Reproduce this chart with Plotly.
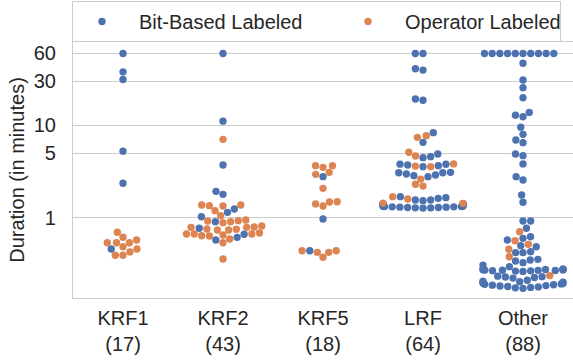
import numpy as np
import plotly.graph_objects as go

# ---------------- data (durations in minutes) ----------------
categories = ["KRF1", "KRF2", "KRF5", "LRF", "Other"]
tick_labels = ["KRF1<br>(17)", "KRF2<br>(43)", "KRF5<br>(18)", "LRF<br>(64)", "Other<br>(88)"]
series_names = ["Bit-Based Labeled", "Operator Labeled"]
y_tick_vals = [1, 5, 10, 30, 60]
y_tick_text = ["1", "5", "10", "30", "60"]

krf1_bit = [60, 38, 31.4, 5.25, 2.36, 0.458]
krf1_op = [0.695, 0.536, 0.536, 0.536, 0.574, 0.614, 0.458, 0.485, 0.425, 0.392, 0.392]

krf2_bit = [60, 11.1, 3.72, 1.93, 1.79, 1.242, 1.144, 1.025, 0.905, 0.768, 0.662, 0.613, 0.573]
krf2_op = [7.06, 1.373, 1.191, 1.339, 1.349, 1.373, 1.051, 0.921, 0.905, 0.883, 0.928, 0.944,
           0.813, 0.787, 0.787, 0.736, 0.736, 0.749, 0.754, 0.793, 0.666, 0.666, 0.666, 0.638,
           0.536, 0.588, 0.634, 0.650, 0.683, 0.357]

krf5_bit = [2.78, 0.968, 0.439]
krf5_op = [3.66, 3.51, 3.66, 2.95, 3.10, 2.08, 1.41, 1.34, 1.48, 1.49, 0.439, 0.422, 0.373, 0.422, 0.439]

lrf_bit = [60, 60, 41, 39.7, 19.3, 18.7, 8.33, 6.55, 4.90, 4.58, 4.47, 3.80, 3.72, 3.66, 3.57, 3.79,
           3.10, 3.07, 3.07, 2.97, 2.90, 2.85, 2.78, 1.688, 1.647, 1.622, 1.555, 1.555, 1.528,
           1.27, 1.28, 1.28, 1.29, 1.29, 1.30, 1.30, 1.31, 1.31, 1.32, 1.32, 1.33, 1.34, 1.35,
           1.36, 1.37, 1.38, 1.39, 1.40, 1.41, 1.42]
lrf_op = [7.73, 7.42, 5.11, 4.66, 3.82, 3.62, 3.57, 2.62, 2.30, 2.20, 1.594, 1.688, 1.43, 1.44]

other_bit = [60, 60, 60, 60, 60, 60, 60, 60, 60, 60, 47, 31, 25.6, 19.9, 12.9, 12.4, 13.8, 9.53,
             8.0, 6.94, 6.49, 4.90, 4.70, 3.82, 2.78, 2.56, 1.76, 1.47,
             0.921, 0.921, 0.768, 0.622, 0.598, 0.573, 0.498, 0.485, 0.428, 0.418, 0.418,
             0.354, 0.348, 0.340, 0.326, 0.307, 0.295,
             0.262, 0.264, 0.266, 0.267, 0.268, 0.269, 0.270, 0.271, 0.272, 0.273, 0.274,
             0.275, 0.277, 0.279,
             0.222, 0.225, 0.228, 0.230, 0.233,
             0.172, 0.174, 0.176, 0.178, 0.180, 0.182, 0.184, 0.186, 0.188, 0.190, 0.192,
             0.194, 0.196, 0.198, 0.200, 0.203, 0.206, 0.210]
other_op = [0.705, 0.563, 0.515, 0.455, 0.378, 0.236]

bit_data = [krf1_bit, krf2_bit, krf5_bit, lrf_bit, other_bit]
op_data = [krf1_op, krf2_op, krf5_op, lrf_op, other_op]

# ---------------- layout geometry ----------------
W, H = 573, 362
M_L, M_R, M_T, M_B = 73, 0, 42, 64
plot_w = W - M_L - M_R
plot_h = H - M_T - M_B
y_range = [-0.8695, 1.9025]          # log10 range of the y axis
px_per_cat = plot_w / len(categories)
radius = 3.67                          # marker radius in px (for swarm layout)
BLUE, ORANGE = "#4C72B0", "#DD8452"


def ypix(v):
    return (np.log10(v) - y_range[0]) / (y_range[1] - y_range[0]) * plot_h


def beeswarm_offsets(values, r=radius, half_width=0.4):
    """seaborn-style beeswarm: returns categorical offsets (in category units)."""
    y = np.array([ypix(v) for v in values])
    order = np.argsort(y, kind="stable")
    swarm = []
    for yi in y[order]:
        if not swarm:
            swarm.append((0.0, yi))
            continue
        neigh = []
        for xj, yj in reversed(swarm):
            if yi - yj < 2 * r:
                neigh.append((xj, yj))
            else:
                break
        neigh = neigh[::-1]
        cands = [(0.0, yi)]
        left_first = True
        for xj, yj in neigh:
            dy = yi - yj
            dx = np.sqrt(max((2 * r) ** 2 - dy ** 2, 0)) * 1.05
            cl, cr = (xj - dx, yi), (xj + dx, yi)
            cands.extend([cl, cr] if left_first else [cr, cl])
            left_first = not left_first
        offs = np.abs([c[0] for c in cands])
        cands = [cands[i] for i in np.argsort(offs, kind="stable")]
        chosen = cands[0]
        if neigh:
            nx = np.array([p[0] for p in neigh])
            ny = np.array([p[1] for p in neigh])
            for cx, cy in cands:
                if np.all((nx - cx) ** 2 + (ny - cy) ** 2 >= (2 * r) ** 2 - 1e-9):
                    chosen = (cx, cy)
                    break
        swarm.append(chosen)
    xs = np.empty(len(values))
    xs[order] = [s[0] for s in swarm]
    return np.clip(xs / px_per_cat, -half_width, half_width)


bx, by, ox, oy = [], [], [], []
for i, (b, o) in enumerate(zip(bit_data, op_data)):
    vals = list(b) + list(o)
    offs = beeswarm_offsets(vals)
    nb = len(b)
    bx += list(i + offs[:nb]); by += list(b)
    ox += list(i + offs[nb:]); oy += list(o)

FONT = "Liberation Sans, Arial, sans-serif"
TXT = "#262626"
GRID = "#cccccc"
ITEM_W = 64

fig = go.Figure()
fig.add_trace(go.Scatter(x=bx, y=by, mode="markers", name=series_names[0],
                         legendwidth=195,
                         marker=dict(color=BLUE, size=2 * radius, line=dict(width=0))))
fig.add_trace(go.Scatter(x=ox, y=oy, mode="markers", name=series_names[1],
                         legendwidth=150,
                         marker=dict(color=ORANGE, size=2 * radius, line=dict(width=0))))

fig.update_layout(
    width=W, height=H,
    margin=dict(l=M_L, r=M_R, t=M_T, b=M_B, pad=0, autoexpand=False),
    paper_bgcolor="white", plot_bgcolor="white",
    font=dict(family=FONT, size=20, color=TXT),
    showlegend=True,
    legend=dict(orientation="h", x=72 / W, xanchor="left", xref="container",
                y=1 - 1 / H, yanchor="top", yref="container",
                bordercolor=GRID, borderwidth=1, bgcolor="white",
                font=dict(family=FONT, size=20, color=TXT),
                itemwidth=ITEM_W, indentation=-8, tracegroupgap=0),
    xaxis=dict(range=[-0.5, len(categories) - 0.5], tickmode="array",
               tickvals=list(range(len(categories))), ticktext=tick_labels,
               showgrid=False, zeroline=False, showline=True, mirror=True,
               linecolor=GRID, linewidth=1.2, ticks="", ticklabelstandoff=2,
               tickfont=dict(size=20), automargin=False),
    yaxis=dict(type="log", range=y_range, tickmode="array",
               tickvals=y_tick_vals, ticktext=y_tick_text,
               showgrid=True, gridcolor=GRID, gridwidth=1.2, zeroline=False,
               showline=True, mirror=True, linecolor=GRID, linewidth=1.2,
               ticks="outside", ticklen=6, tickcolor="rgba(0,0,0,0)",
               ticklabelstandoff=6, tickfont=dict(size=20), automargin=False,
               title=dict(text="Duration (in minutes)", font=dict(size=20), standoff=3)),
)

fig.write_html("out.html", config={"displayModeBar": False},
               post_script="document.body.style.margin='0px';")
